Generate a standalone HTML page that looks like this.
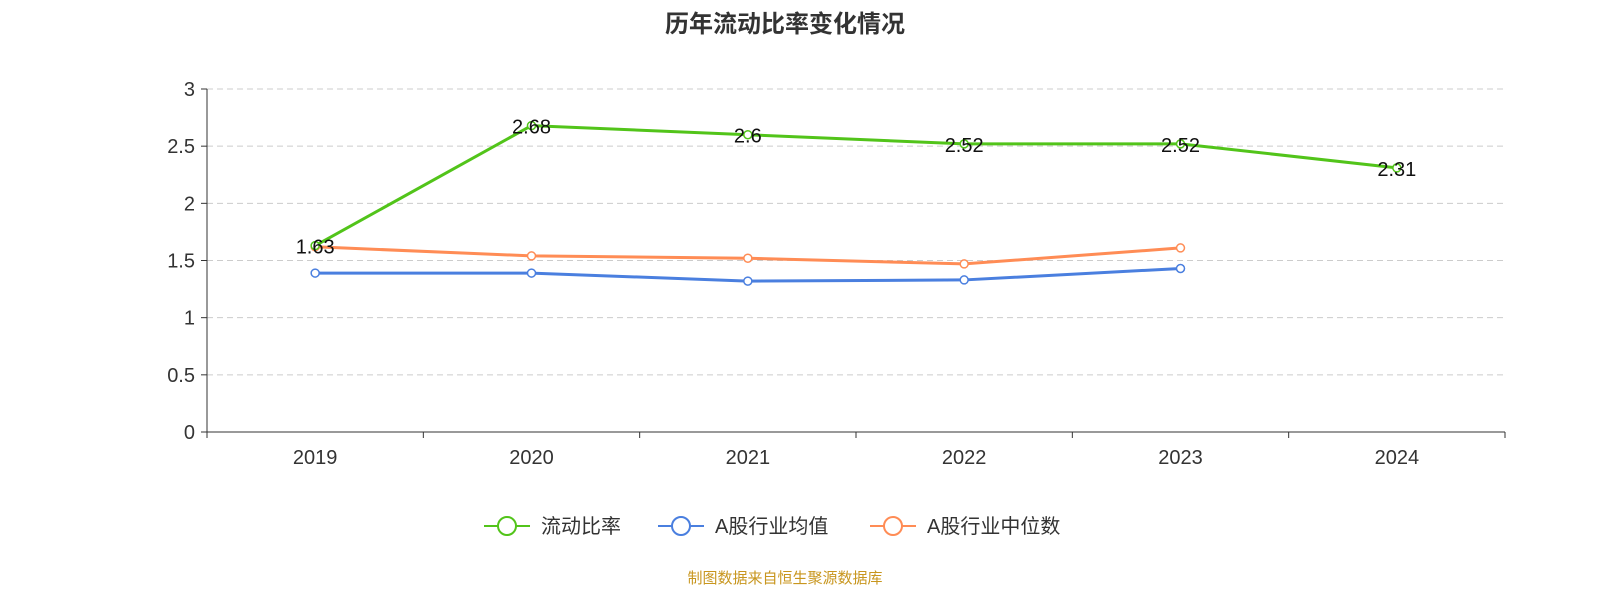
<!DOCTYPE html>
<html><head><meta charset="utf-8"><style>
body{margin:0;background:#fff;font-family:"Liberation Sans","Noto Sans CJK SC",sans-serif;}
</style></head><body>
<svg width="1600" height="600" xmlns="http://www.w3.org/2000/svg" font-family="Liberation Sans, Noto Sans CJK SC, sans-serif">
<text x="785" y="32" text-anchor="middle" font-size="24" font-weight="bold" fill="#333">历年流动比率变化情况</text>
<g id="grid"></g><g id="axes"></g><g id="series"></g>
<g font-size="20" fill="#333">
 <g><line x1="484" y1="526" x2="530" y2="526" stroke="#52c41a" stroke-width="2"/><circle cx="507" cy="526" r="9" fill="#fff" stroke="#52c41a" stroke-width="2"/><text x="541" y="533">流动比率</text></g>
 <g><line x1="658" y1="526" x2="704" y2="526" stroke="#4a7fdf" stroke-width="2"/><circle cx="681" cy="526" r="9" fill="#fff" stroke="#4a7fdf" stroke-width="2"/><text x="715" y="533">A股行业均值</text></g>
 <g><line x1="870" y1="526" x2="916" y2="526" stroke="#ff8c55" stroke-width="2"/><circle cx="893" cy="526" r="9" fill="#fff" stroke="#ff8c55" stroke-width="2"/><text x="927" y="533">A股行业中位数</text></g>
</g>
<text x="785" y="583" text-anchor="middle" font-size="15" fill="#c8961e">制图数据来自恒生聚源数据库</text>
</svg>
<script>
const categories=["2019","2020","2021","2022","2023","2024"];
const currentRatio=[1.63,2.68,2.6,2.52,2.52,2.31];
const industryMean=[1.39,1.39,1.32,1.33,1.43];
const industryMedian=[1.62,1.54,1.52,1.47,1.61];
const yTicks=[0,0.5,1,1.5,2,2.5,3];
const NS="http://www.w3.org/2000/svg";
const x0=207,x1=1505,yb=432,yt=89,yMax=3;
const bw=(x1-x0)/categories.length;
const xs=i=>x0+bw*(i+0.5);
const ys=v=>yb-(v/yMax)*(yb-yt);
function mk(t,a,p){const e=document.createElementNS(NS,t);for(const k in a)e.setAttribute(k,a[k]);p.appendChild(e);return e;}
const grid=document.getElementById('grid'),axes=document.getElementById('axes'),ser=document.getElementById('series');
yTicks.forEach(v=>{
 if(v>0){const g=mk('line',{x1:x0,x2:x1,y1:ys(v),y2:ys(v),stroke:'#ccc','stroke-dasharray':'6,4'},grid);
 
 }
 const t=mk('text',{x:x0-12,y:ys(v)+7,'text-anchor':'end','font-size':20,fill:'#333'},axes);t.textContent=v;
 
 
 mk('line',{x1:x0-6,x2:x0,y1:ys(v),y2:ys(v),stroke:'#333'},axes);
});
const ya=mk('line',{x1:x0,x2:x0,y1:yt,y2:yb,stroke:'#333'},axes);


const xa=mk('line',{x1:x0,x2:x1,y1:yb,y2:yb,stroke:'#333'},axes);


for(let i=0;i<=categories.length;i++)mk('line',{x1:x0+bw*i,x2:x0+bw*i,y1:yb,y2:yb+6,stroke:'#333'},axes);
categories.forEach((c,i)=>{const t=mk('text',{x:xs(i),y:yb+32,'text-anchor':'middle','font-size':20,fill:'#333'},axes);t.textContent=c;
 
 });
function line(arr,color,name,labels){
 const g=mk('g',{},ser);
 
 
 mk('polyline',{points:arr.map((v,i)=>xs(i)+','+ys(v)).join(' '),fill:'none',stroke:color,'stroke-width':3},g);
 arr.forEach((v,i)=>{const c=mk('circle',{cx:xs(i),cy:ys(v),r:4,fill:'#fff',stroke:color,'stroke-width':1.5},g);
  
  
  if(labels){const t=mk('text',{x:xs(i),y:ys(v)+8,'text-anchor':'middle','font-size':20,fill:'#111'},g);t.textContent=v;
   
   }
 });
}
line(industryMean,'#4a7fdf','series-industry-mean',false);
line(industryMedian,'#ff8c55','series-industry-median',false);
line(currentRatio,'#52c41a','series-current-ratio',true);
</script>
</body></html>
